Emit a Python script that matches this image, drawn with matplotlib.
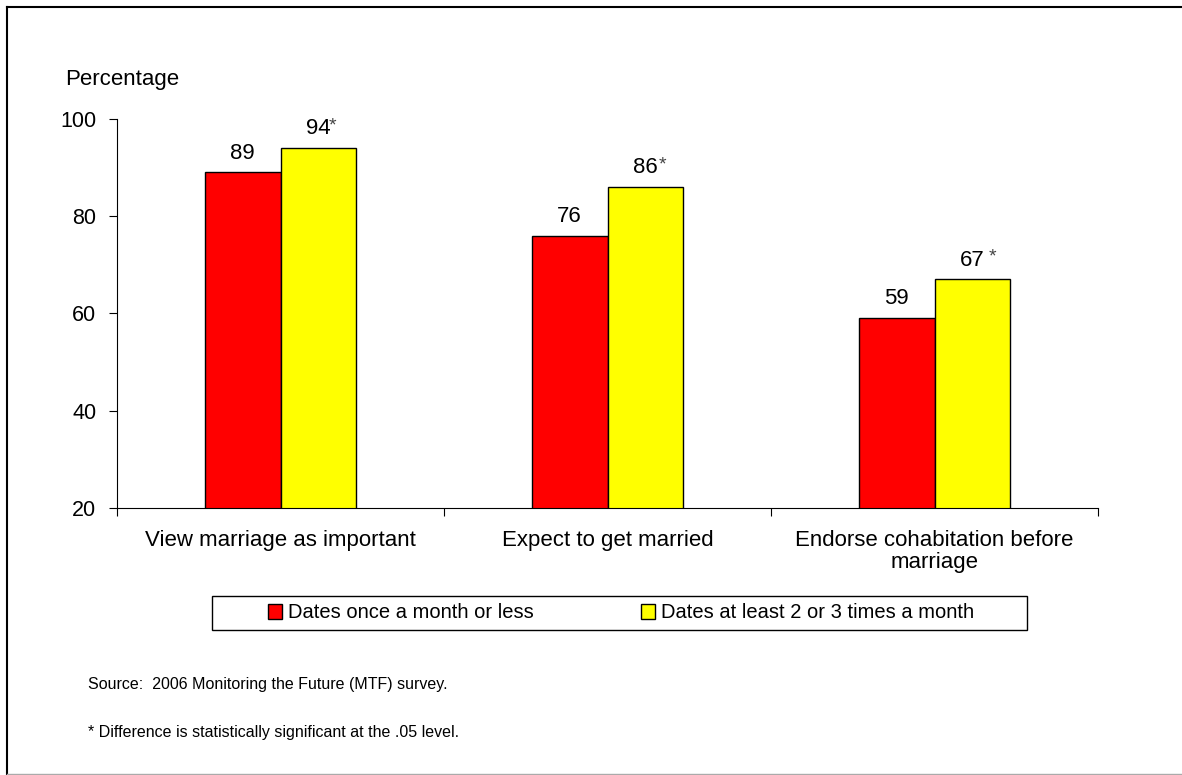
import matplotlib
matplotlib.use("Agg")
import matplotlib.pyplot as plt
from matplotlib.patches import Rectangle
from matplotlib.lines import Line2D
import numpy as np

plt.rcParams['font.family'] = ['Liberation Sans', 'DejaVu Sans']

categories = ["View marriage as important", "Expect to get married",
              "Endorse cohabitation before\nmarriage"]
series_names = ["Dates once a month or less",
                "Dates at least 2 or 3 times a month"]
low_dating = [89, 76, 59]
high_dating = [94, 86, 67]
star_offsets = [10, 12.5, 14.5]

fig = plt.figure(figsize=(11.82, 7.75), dpi=100)
ax = fig.add_axes([117 / 1182, 1 - 508 / 775, 981 / 1182, 389 / 775])

x = np.arange(len(categories)) + 0.5
w = 0.232
bars1 = ax.bar(x - w / 2, low_dating, w, bottom=0, color="#ff0000",
               edgecolor="black", linewidth=1, label=series_names[0])
bars2 = ax.bar(x + w / 2, high_dating, w, bottom=0, color="#ffff00",
               edgecolor="black", linewidth=1, label=series_names[1])

for xi, v in zip(x - w / 2, low_dating):
    ax.annotate(str(v), (xi, v), xytext=(0, 14), textcoords="offset points",
                ha="center", va="center", fontsize=16)
for xi, v, so in zip(x + w / 2, high_dating, star_offsets):
    ax.annotate(str(v), (xi, v), xytext=(0, 14), textcoords="offset points",
                ha="center", va="center", fontsize=16)
    ax.annotate("*", (xi, v), xytext=(so, 16), textcoords="offset points",
                ha="center", va="center", fontsize=14, color="#444444")

ax.set_xlim(0, 3)
ax.set_ylim(20, 100)
ax.set_yticks([20, 40, 60, 80, 100])
ax.set_xticks([0, 1, 2, 3])
ax.set_xticklabels([])
ax.set_xticks(x, minor=True)
ax.set_xticklabels(categories, minor=True, fontsize=16, linespacing=1.12)
ax.tick_params(axis="x", which="minor", length=0, pad=15.5)
ax.tick_params(axis="x", which="major", direction="out", length=6)
ax.tick_params(axis="y", direction="out", length=6, labelsize=15.5, pad=9)
for s in ["top", "right"]:
    ax.spines[s].set_visible(False)

fig.text(65 / 1182, 1 - 80 / 775, "Percentage", fontsize=16, va="center")

# legend box
fig.patches.append(Rectangle((212 / 1182, 1 - 630 / 775), 815 / 1182,
                             34 / 775, transform=fig.transFigure,
                             facecolor="white", edgecolor="black",
                             linewidth=1))
fig.legend(handles=[bars1, bars2], loc="center",
           bbox_to_anchor=(621 / 1182, 1 - 613 / 775), ncol=2,
           frameon=False, fontsize=14.5, handlelength=0.7, handleheight=0.7,
           handletextpad=0.3, columnspacing=5.3)

fig.text(88 / 1182, 1 - 685 / 775,
         "Source:  2006 Monitoring the Future (MTF) survey.", fontsize=11.5,
         va="center")
fig.text(88 / 1182, 1 - 733 / 775,
         "* Difference is statistically significant at the .05 level.",
         fontsize=11.5, va="center")

# outer frame
fig.add_artist(Line2D([7 / 1182, 7 / 1182], [1 - 7 / 775, 1 - 774 / 775],
                      transform=fig.transFigure, color="black", lw=1.5))
fig.add_artist(Line2D([7 / 1182, 1], [1 - 7 / 775, 1 - 7 / 775],
                      transform=fig.transFigure, color="black", lw=1.5))
fig.add_artist(Line2D([7 / 1182, 1], [1 - 774 / 775, 1 - 774 / 775],
                      transform=fig.transFigure, color="#aaaaaa", lw=1))

fig.savefig("out.png", dpi=100)
